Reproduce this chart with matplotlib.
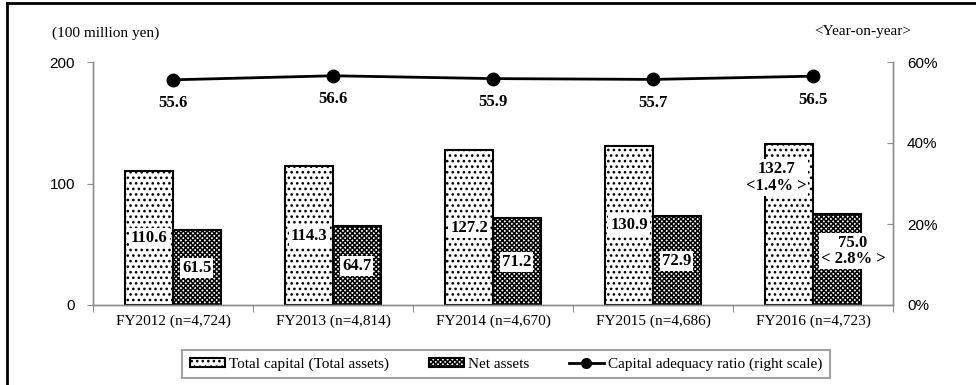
import matplotlib
matplotlib.use("Agg")
import matplotlib.pyplot as plt
from matplotlib.lines import Line2D
import numpy as np

# Data
categories = ["FY2012 (n=4,724)", "FY2013 (n=4,814)", "FY2014 (n=4,670)",
              "FY2015 (n=4,686)", "FY2016 (n=4,723)"]
total_capital = [110.6, 114.3, 127.2, 130.9, 132.7]
net_assets = [61.5, 64.7, 71.2, 72.9, 75.0]
capital_ratio = [55.6, 56.6, 55.9, 55.7, 56.5]
yoy_total = "1.4%"
yoy_net = "2.8%"
left_ticks = [0, 100, 200]
right_ticks = [0, 20, 40, 60]

SERIF = "Liberation Serif"
SANS = "Liberation Sans"
GRAY = "#8c8c8c"

plt.rcParams["hatch.linewidth"] = 1.1

fig = plt.figure(figsize=(9.76, 3.85), dpi=100)
ax = fig.add_axes([93 / 976, 1 - 305 / 385, 800 / 976, 243 / 385])
ax2 = ax.twinx()

x = np.arange(len(categories))
w = 0.297

bars_total = ax.bar(x - w / 2, total_capital, w, facecolor="white",
                    edgecolor="black", hatch="...", linewidth=1.5, zorder=2)
bars_net = ax.bar(x + w / 2, net_assets, w, facecolor="white",
                  edgecolor="black", hatch="xxxxxxx", linewidth=1.5, zorder=2)

ax.set_xlim(-0.5, len(categories) - 0.5)
ax.set_ylim(0, 200)
ax2.set_ylim(0, 60)

# Value labels inside the bars
LBL = 12
box = dict(boxstyle="square,pad=0.12", facecolor="white", edgecolor="none")
last = len(categories) - 1
for i in range(last):
    ax.text(x[i] - w / 2, total_capital[i] / 2, f"{total_capital[i]:.1f}",
            ha="center", va="center", fontsize=LBL, fontweight="bold",
            family=SERIF, bbox=box, zorder=4)
    ax.text(x[i] + w / 2, net_assets[i] / 2, f"{net_assets[i]:.1f}",
            ha="center", va="center", fontsize=LBL, fontweight="bold",
            family=SERIF, bbox=box, zorder=4)
ax.text(x[last] - 0.231, 105, f"{total_capital[last]:.1f}\n<{yoy_total} >",
        ha="center", va="center", fontsize=LBL, fontweight="bold",
        family=SERIF, bbox=box, zorder=4, linespacing=1.05)
ax.text(x[last] + 0.25, 44.6, f"{net_assets[last]:.1f}\n< {yoy_net} >",
        ha="center", va="center", fontsize=LBL, fontweight="bold",
        family=SERIF, bbox=box, zorder=4, linespacing=1.05)

# Capital adequacy ratio line
ax2.plot(x, capital_ratio, color="black", linewidth=2, marker="o",
         markersize=9, zorder=5)
for xi, v in zip(x, capital_ratio):
    ax2.annotate(f"{v:.1f}", (xi, v), xytext=(0, -17), textcoords="offset points",
                 ha="center", va="center", fontsize=LBL, fontweight="bold",
                 family=SERIF)

# Axes styling
for a in (ax, ax2):
    a.spines["top"].set_visible(False)
    for s in ("left", "right", "bottom"):
        a.spines[s].set_color(GRAY)
        a.spines[s].set_linewidth(1.0)
ax.set_yticks(left_ticks)
ax.set_yticklabels([str(t) for t in left_ticks], family=SANS, fontsize=11)
ax.tick_params(axis="y", direction="out", length=4, color=GRAY, pad=9)
ax2.set_yticks(right_ticks)
ax2.set_yticklabels([f"{t}%" for t in right_ticks], family=SANS, fontsize=11)
ax2.tick_params(axis="y", direction="in", length=4, color=GRAY, pad=10)

ax.set_xticks(np.arange(-0.5, len(categories), 1.0))
ax.set_xticklabels([])
ax.set_xticks(x, minor=True)
ax.set_xticklabels(categories, minor=True, family=SERIF, fontsize=11)
ax.tick_params(axis="x", which="major", direction="out", length=5, color=GRAY)
ax.tick_params(axis="x", which="minor", length=0, pad=7)

# Unit captions
fig.text(52 / 976, 1 - 33 / 385, "(100 million yen)", family=SERIF,
         fontsize=11, ha="left", va="center")
fig.text(911 / 976, 1 - 32 / 385, "<Year-on-year>", family=SERIF,
         fontsize=11, ha="right", va="center")

# Legend
handles = [bars_total, bars_net,
           Line2D([], [], color="black", linewidth=2, marker="o", markersize=7)]
labels = ["Total capital (Total assets)", "Net assets",
          "Capital adequacy ratio (right scale)"]
leg = fig.legend(handles, labels, loc="center", bbox_to_anchor=(506 / 976, 1 - 364 / 385),
                 ncol=3, frameon=True, fancybox=False, prop={"family": SERIF, "size": 11},
                 handlelength=2.3, handleheight=0.5, handletextpad=0.25,
                 columnspacing=2.6, borderpad=0.5, borderaxespad=0,
                 edgecolor=GRAY)
leg.get_frame().set_linewidth(1.5)

# Outer frame (top and left edges)
fig.add_artist(Line2D([7 / 976, 7 / 976], [0, 1 - 3 / 385], transform=fig.transFigure,
                      color="black", linewidth=2))
fig.add_artist(Line2D([7 / 976, 1], [1 - 3 / 385, 1 - 3 / 385], transform=fig.transFigure,
                      color="black", linewidth=2))

fig.savefig("out.png", dpi=100)
